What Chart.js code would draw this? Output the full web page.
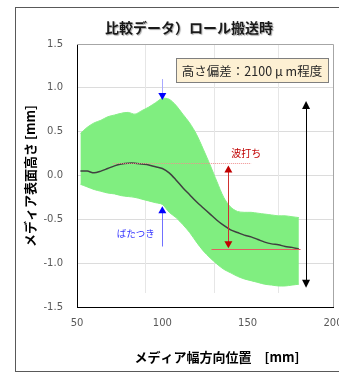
<!DOCTYPE html>
<html lang="ja">
<head>
<meta charset="UTF-8">
<title>比較データ）ロール搬送時</title>
<script src="https://cdn.jsdelivr.net/npm/chart.js"></script>
<style>
    html, body { margin: 0; padding: 0; background: #fff; overflow: hidden; }
    .wrap { position: relative; width: 339px; height: 372px; overflow: hidden; }
    .frame {
        position: absolute; left: 15px; top: 7px; width: 400px; height: 363px;
        border: 1px solid #595959; pointer-events: none;
    }
    #chart { position: absolute; left: 0; top: 0; }
</style>
</head>
<body>
<div class="wrap">
    <canvas id="chart" width="360" height="372"></canvas>
    <div class="frame"></div>
</div>
<script>
// メディア幅方向位置 [mm]
const positions = [52, 56, 60, 64, 68, 72, 76, 80, 84, 88, 92, 96, 100, 104, 108, 112, 116,
                   120, 124, 128, 132, 136, 140, 144, 148, 152, 156, 160, 164, 168, 172, 176, 180];
// 平均プロファイル [mm]
const meanHeight = [0.05, 0.05, 0.03, 0.05, 0.08, 0.11, 0.13, 0.14, 0.14, 0.13, 0.12, 0.10, 0.08,
                    0.03, -0.05, -0.14, -0.22, -0.30, -0.37, -0.44, -0.51, -0.57, -0.62, -0.65,
                    -0.68, -0.70, -0.73, -0.76, -0.78, -0.79, -0.81, -0.82, -0.84];
// 全プロファイルの上限 / 下限 [mm]
const upperHeight = [0.48, 0.55, 0.60, 0.63, 0.67, 0.69, 0.71, 0.72, 0.70, 0.74, 0.78, 0.83, 0.88,
                     0.87, 0.80, 0.70, 0.60, 0.47, 0.30, 0.12, -0.07, -0.25, -0.36, -0.41,
                     -0.42, -0.42, -0.43, -0.44, -0.45, -0.46, -0.46, -0.47, -0.48];
const lowerHeight = [-0.10, -0.13, -0.16, -0.18, -0.20, -0.21, -0.23, -0.24, -0.25, -0.27, -0.29,
                     -0.31, -0.33, -0.42, -0.48, -0.56, -0.65, -0.76, -0.86, -0.94, -1.01, -1.07,
                     -1.11, -1.15, -1.18, -1.20, -1.22, -1.24, -1.25, -1.26, -1.26, -1.25, -1.24];

const xTicks = [50, 100, 150, 200];
const yTicks = [-1.5, -1.0, -0.5, 0.0, 0.5, 1.0, 1.5];

// 注記 (データ座標)
const flutterX = 100;          // ばたつき
const flutterTop = [1.10, 0.86];
const flutterBottom = [-0.35, -0.81];
const waveX = 138.7;           // 波打ち
const waveRange = [0.115, -0.83];
const waveTopLine = [71, 152, 0.14];
const waveBottomLine = [128.8, 181, -0.84];
const spanX = 184.2;           // 高さ偏差
const spanRange = [0.85, -1.28];

const JP = '"Noto Sans CJK JP", "Noto Sans", sans-serif';

function toPoints(ys) {
    return positions.map((x, i) => ({ x: x, y: ys[i] }));
}

function tri(ctx, x, y, up, w, h, color) {
    ctx.fillStyle = color;
    ctx.beginPath();
    ctx.moveTo(x, y);
    ctx.lineTo(x - w / 2, up ? y + h : y - h);
    ctx.lineTo(x + w / 2, up ? y + h : y - h);
    ctx.closePath();
    ctx.fill();
}

function vline(ctx, x, y1, y2, color, dash) {
    ctx.strokeStyle = color;
    ctx.lineWidth = 1;
    ctx.setLineDash(dash || []);
    ctx.beginPath();
    ctx.moveTo(Math.round(x) + 0.5, y1);
    ctx.lineTo(Math.round(x) + 0.5, y2);
    ctx.stroke();
    ctx.setLineDash([]);
}

function hline(ctx, x1, x2, y, color, dash) {
    ctx.strokeStyle = color;
    ctx.lineWidth = 1;
    ctx.setLineDash(dash || []);
    ctx.beginPath();
    ctx.moveTo(x1, Math.round(y) + 0.5);
    ctx.lineTo(x2, Math.round(y) + 0.5);
    ctx.stroke();
    ctx.setLineDash([]);
}

const decorations = {
    id: 'decorations',
    beforeDatasetsDraw(chart) {
        const ctx = chart.ctx;
        const a = chart.chartArea;
        const xs = chart.scales.x;
        ctx.save();
        // 薄い縦線
        [90, 130, 168].forEach(v => vline(ctx, xs.getPixelForValue(v), a.top, a.bottom - 14, '#e6e6e6'));
        // 上・右の枠
        ctx.strokeStyle = '#a6a6a6';
        ctx.lineWidth = 1;
        ctx.beginPath();
        ctx.moveTo(a.left, a.top + 0.5);
        ctx.lineTo(a.right + 0.5, a.top + 0.5);
        ctx.lineTo(a.right + 0.5, a.bottom);
        ctx.stroke();
        ctx.restore();
    },
    afterDatasetsDraw(chart) {
        const ctx = chart.ctx;
        const xs = chart.scales.x, ys = chart.scales.y;
        const px = v => xs.getPixelForValue(v);
        const py = v => ys.getPixelForValue(v);
        ctx.save();

        // ばたつき
        const fx = px(flutterX);
        vline(ctx, fx, py(flutterTop[0]), py(flutterTop[1]) - 6, '#a8a8ff');
        tri(ctx, fx, py(flutterTop[1]), false, 8, 7, '#0000ff');
        vline(ctx, fx, py(flutterBottom[0]) + 6, py(flutterBottom[1]), '#7070ff');
        tri(ctx, fx, py(flutterBottom[0]), true, 8, 7, '#0000ff');
        ctx.fillStyle = '#3333ff';
        ctx.font = '9.5px ' + JP;
        ctx.textAlign = 'center';
        ctx.textBaseline = 'middle';
        ctx.fillText('ばたつき', px(84.4), py(-0.66));

        // 波打ち
        hline(ctx, px(waveTopLine[0]), px(waveTopLine[1]), py(waveTopLine[2]), '#f09090', [1, 1]);
        hline(ctx, px(waveBottomLine[0]), px(waveBottomLine[1]), py(waveBottomLine[2]), '#e06060');
        const wx = px(waveX);
        vline(ctx, wx, py(waveRange[0]) + 6, py(waveRange[1]) - 6, '#d03030');
        tri(ctx, wx, py(waveRange[0]), true, 8, 7, '#c00000');
        tri(ctx, wx, py(waveRange[1]), false, 8, 7, '#c00000');
        ctx.fillStyle = '#c00000';
        ctx.font = '10px ' + JP;
        ctx.fillText('波打ち', px(149.2), py(0.26));

        // 全体幅
        const sx = px(spanX);
        vline(ctx, sx, py(spanRange[0]) + 7, py(spanRange[1]) - 7, '#000');
        tri(ctx, sx, py(spanRange[0]), true, 8, 8, '#000');
        tri(ctx, sx, py(spanRange[1]), false, 8, 8, '#000');

        // 高さ偏差ボックス
        ctx.fillStyle = '#fdf0d3';
        ctx.fillRect(176.5, 58.5, 152, 24);
        ctx.strokeStyle = '#7f7f7f';
        ctx.lineWidth = 1;
        ctx.strokeRect(176.5, 58.5, 152, 24);
        ctx.fillStyle = '#262626';
        ctx.font = '12.5px ' + JP;
        ctx.fillText('高さ偏差：2100 μ m程度', 252, 71);

        // タイトル
        ctx.font = 'bold 14px ' + JP;
        ctx.shadowColor = 'rgba(0,0,0,0.35)';
        ctx.shadowOffsetX = 1;
        ctx.shadowOffsetY = 1;
        ctx.shadowBlur = 1;
        ctx.fillStyle = '#1a1a1a';
        ctx.fillText('比較データ）ロール搬送時', 189, 28);
        ctx.shadowColor = 'transparent';

        // 軸タイトル
        ctx.font = 'bold 13px ' + JP;
        ctx.fillStyle = '#000';
        ctx.fillText('メディア幅方向位置　[mm]', 217, 357);
        ctx.translate(30, 176);
        ctx.rotate(-Math.PI / 2);
        ctx.fillText('メディア表面高さ [mm]', 0, 0);
        ctx.restore();
    }
};

new Chart(document.getElementById('chart'), {
    type: 'line',
    data: {
        datasets: [{
            label: '平均',
            data: toPoints(meanHeight),
            borderColor: '#404040',
            borderWidth: 1.5,
            pointRadius: 0,
            fill: false,
            tension: 0.3
        }, {
            label: '上限',
            data: toPoints(upperHeight),
            borderColor: '#86ee86',
            borderWidth: 1,
            backgroundColor: '#80ee80',
            pointRadius: 0,
            fill: '+1',
            tension: 0.3
        }, {
            label: '下限',
            data: toPoints(lowerHeight),
            borderColor: '#86ee86',
            borderWidth: 1,
            pointRadius: 0,
            fill: false,
            tension: 0.3
        }]
    },
    options: {
        responsive: false,
        devicePixelRatio: 1,
        animation: false,
        layout: { padding: { left: 0, top: 44, right: 27, bottom: 0 } },
        plugins: { legend: { display: false }, title: { display: false }, tooltip: { enabled: false } },
        scales: {
            x: {
                type: 'linear',
                min: 50, max: 200,
                afterBuildTicks: s => { s.ticks = xTicks.map(v => ({ value: v })); },
                afterFit: s => { s.height = 65; },
                grid: { display: false, drawTicks: false },
                border: { display: true, color: '#000', width: 1 },
                ticks: { padding: 10, color: '#595959', font: { family: 'DejaVu Sans', size: 10 }, maxRotation: 0, autoSkip: false }
            },
            y: {
                min: -1.5, max: 1.5,
                afterBuildTicks: s => { s.ticks = yTicks.map(v => ({ value: v })); },
                afterFit: s => { s.width = 77; },
                grid: {
                    drawTicks: false,
                    color: c => (c.tick && Math.abs(c.tick.value) === 1.5) ? 'rgba(0,0,0,0)' : '#dcdcdc'
                },
                border: { display: true, color: '#000', width: 1 },
                ticks: {
                    padding: 14, color: '#595959', font: { family: 'DejaVu Sans', size: 10 },
                    callback: v => v.toFixed(1)
                }
            }
        }
    },
    plugins: [decorations]
});
</script>
</body>
</html>
